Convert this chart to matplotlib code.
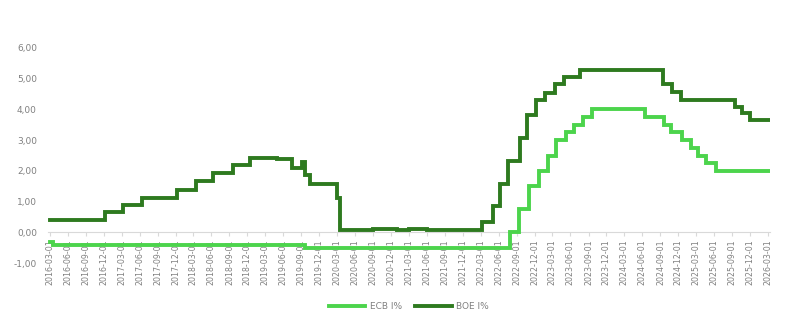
import matplotlib
matplotlib.use("Agg")
import matplotlib.pyplot as plt
import matplotlib.dates as mdates
import pandas as pd

# change points (date the rate starts, rate in %)
ecb_dates = ["2016-03-01", "2016-03-16", "2019-09-18", "2022-07-27", "2022-09-14",
             "2022-11-02", "2022-12-21", "2023-02-08", "2023-03-22", "2023-05-10",
             "2023-06-21", "2023-08-02", "2023-09-20", "2024-06-12", "2024-09-18",
             "2024-10-23", "2024-12-18", "2025-02-05", "2025-03-12", "2025-04-23",
             "2025-06-11", "2026-03-12"]
ecb_rate = [-0.30, -0.40, -0.50, 0.00, 0.75,
            1.50, 2.00, 2.50, 3.00, 3.25,
            3.50, 3.75, 4.00, 3.75, 3.50,
            3.25, 3.00, 2.75, 2.50, 2.25,
            2.00, 2.00]

boe_dates = ["2016-03-01", "2016-12-07", "2017-03-07", "2017-06-13", "2017-12-07",
             "2018-03-13", "2018-06-10", "2018-09-19", "2018-12-16", "2019-05-01",
             "2019-06-01", "2019-07-16", "2019-09-07", "2019-09-19", "2019-10-16",
             "2020-03-01", "2020-03-16", "2020-09-01", "2021-01-01", "2021-03-01",
             "2021-06-01", "2022-03-07", "2022-05-01", "2022-06-07", "2022-07-16",
             "2022-09-16", "2022-10-25", "2022-12-07", "2023-01-25", "2023-03-16",
             "2023-04-28", "2023-07-22", "2024-09-13", "2024-11-01", "2024-12-13",
             "2025-09-13", "2025-10-19", "2025-12-01", "2026-03-12"]
boe_rate = [0.40, 0.66, 0.89, 1.12, 1.39,
            1.68, 1.92, 2.18, 2.41, 2.37,
            2.40, 2.10, 2.30, 1.88, 1.58,
            1.12, 0.09, 0.12, 0.07, 0.10,
            0.09, 0.34, 0.84, 1.58, 2.32,
            3.06, 3.81, 4.30, 4.55, 4.82,
            5.05, 5.29, 4.82, 4.58, 4.30,
            4.08, 3.88, 3.64, 3.64]

y_ticks = [-1, 0, 1, 2, 3, 4, 5, 6]
y_labels = ["-1,00", "0,00", "1,00", "2,00", "3,00", "4,00", "5,00", "6,00"]

ecb_color = "#4cd44c"
boe_color = "#2e7a1f"
grey = "#808080"

fig = plt.figure(figsize=(7.97, 3.18), dpi=100)
ax = fig.add_axes([48 / 797, 1 - 263 / 318, 722 / 797, 215 / 318])

ax.step(pd.to_datetime(ecb_dates), ecb_rate, where="post", color=ecb_color,
        lw=2.8, label="ECB I%", solid_joinstyle="miter")
ax.step(pd.to_datetime(boe_dates), boe_rate, where="post", color=boe_color,
        lw=2.8, label="BOE I%", solid_joinstyle="miter")

ax.set_ylim(-1, 6)
ax.set_xlim(pd.Timestamp("2016-02-21"), pd.Timestamp("2026-03-12"))
ax.set_yticks(y_ticks)
ax.set_yticklabels(y_labels, fontsize=6.5, color=grey)
ax.tick_params(axis="y", length=0, pad=8)

xt = pd.date_range("2016-03-01", "2026-03-01", freq="3MS")
ax.set_xticks(xt)
ax.xaxis.set_major_formatter(mdates.DateFormatter("%Y-%m-%d"))
ax.tick_params(axis="x", labelsize=5.7, labelcolor=grey, rotation=90,
               length=3, color="#d9d9d9", direction="out", pad=2)

for s in ["top", "right", "left"]:
    ax.spines[s].set_visible(False)
ax.spines["bottom"].set_position(("data", 0))
ax.spines["bottom"].set_color("#d9d9d9")
ax.spines["bottom"].set_zorder(0)

leg = ax.legend(loc="upper center", bbox_to_anchor=(0.50, -0.145), ncol=2,
                frameon=False, fontsize=6.5, handlelength=4, columnspacing=1.5,
                handletextpad=0.5)
for t in leg.get_texts():
    t.set_color(grey)

fig.savefig("out.png", dpi=100)
